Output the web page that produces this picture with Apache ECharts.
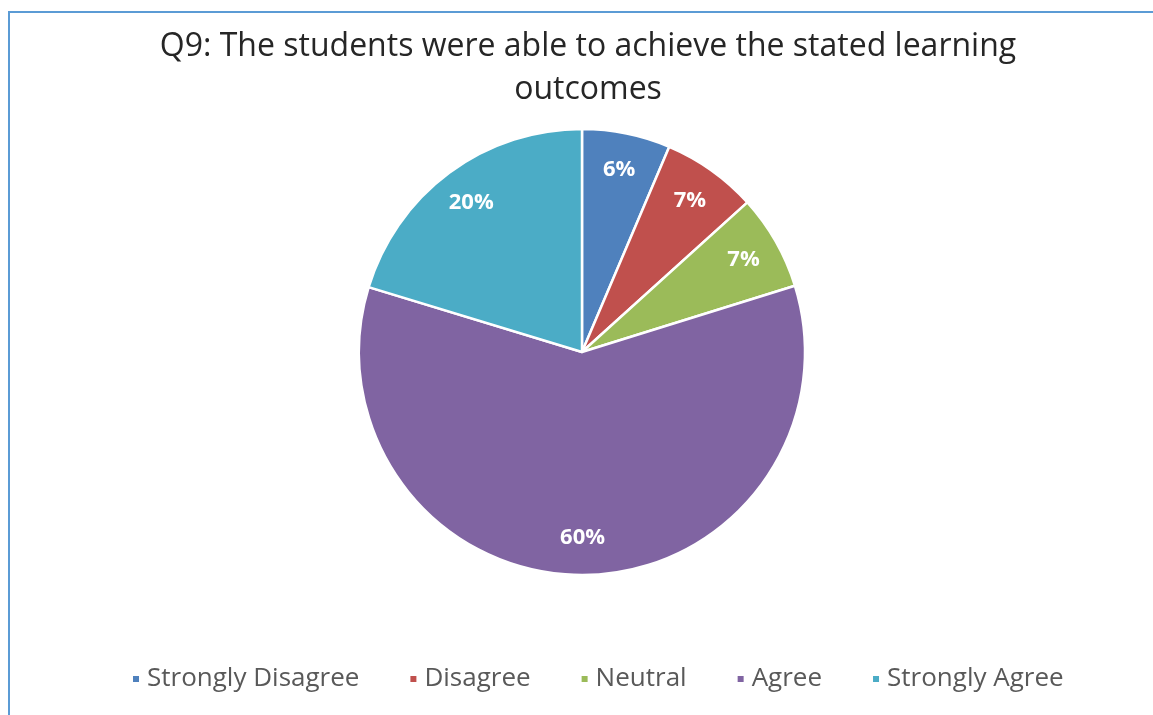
<!DOCTYPE html>
<html>
<head>
<meta charset="utf-8">
<script src="https://cdn.jsdelivr.net/npm/echarts@6/dist/echarts.min.js"></script>
<style>
  html, body { margin: 0; padding: 0; background: #fff; }
  #frame {
    position: absolute; left: 8px; top: 11px; width: 1160px; height: 720px;
    border-left: 2px solid #5b9bd5; border-top: 2px solid #5b9bd5;
  }
  #chart { position: absolute; left: 0; top: 0; width: 1153px; height: 715px; }
</style>
</head>
<body>
<div id="frame"></div>
<div id="chart"></div>
<script>
  // answers to Q9, share of respondents (%)
  const categories = ['Strongly Disagree', 'Disagree', 'Neutral', 'Agree', 'Strongly Agree']
  const shares = [6.4, 6.9, 6.9, 59.5, 20.3]
  const colors = ['#4f81bd', '#c0504d', '#9bbb59', '#8064a2', '#4bacc6']

  let pieData = categories.map((name, i) => ({ name: name, value: shares[i] }))

  let chart = echarts.init(document.getElementById('chart'))
  chart.setOption({
    color: colors,
    title: {
      text: 'Q9: The students were able to achieve the stated learning\noutcomes',
      left: 583,
      textAlign: 'center',
      top: 20,
      textStyle: {
        fontFamily: 'Open Sans',
        fontWeight: 'normal',
        fontSize: 32,
        lineHeight: 43,
        color: '#262626'
      }
    },
    legend: {
      top: 661,
      left: 126,
      icon: 'rect',
      itemWidth: 8,
      itemHeight: 8,
      itemGap: 49,
      textStyle: {
        fontFamily: 'Open Sans',
        fontSize: 26,
        color: '#595959',
        padding: [0, 0, 0, 2]
      },
      data: categories
    },
    series: [
      {
        type: 'pie',
        center: [582, 352],
        radius: [0, 223],
        startAngle: 90,
        clockwise: true,
        animation: false,
        itemStyle: { borderColor: '#fff', borderWidth: 2.5 },
        label: { show: false },
        labelLine: { show: false },
        data: pieData
      },
      {
        // transparent ring that only carries the percentage labels
        type: 'pie',
        center: [582, 352],
        radius: [143, 223],
        startAngle: 90,
        clockwise: true,
        animation: false,
        silent: true,
        percentPrecision: 0,
        itemStyle: { color: 'transparent', borderWidth: 0 },
        label: {
          show: true,
          position: 'inside',
          formatter: '{d}%',
          color: '#fff',
          fontFamily: 'Open Sans',
          fontWeight: 'bold',
          fontSize: 22
        },
        labelLine: { show: false },
        data: pieData
      }
    ]
  })
</script>
</body>
</html>
